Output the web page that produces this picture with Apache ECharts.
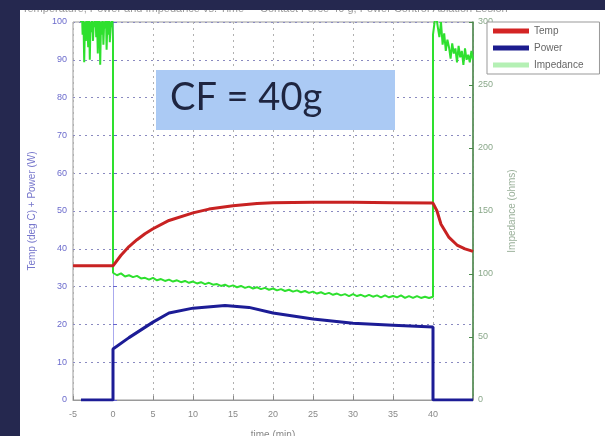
<!DOCTYPE html>
<html>
<head>
<meta charset="utf-8">
<script src="https://cdn.jsdelivr.net/npm/echarts@6/dist/echarts.min.js"></script>
<style>
  html, body { margin: 0; padding: 0; background: #25284f; }
  #chart { width: 605px; height: 436px; }
</style>
</head>
<body>
<div id="chart"></div>
<script>
    // data
    const seriesNames = ['Temp', 'Power', 'Impedance'];

    // Temp (left axis, deg C)
    const tempTime  = [-5, 0, 1, 2, 3, 4, 5, 7, 10, 12, 15, 18, 20, 25, 30, 35, 40, 40.5, 41, 42, 43, 44, 45];
    const tempValue = [35.5, 35.5, 38.3, 40.6, 42.4, 44, 45.3, 47.5, 49.5, 50.5, 51.4, 52, 52.2, 52.3, 52.3, 52.2, 52.1, 50, 46.5, 43, 41, 40, 39.3];

    // Power (left axis, W)
    const powerTime  = [-4, 0, 0, 2, 5, 7, 10, 14, 17, 20, 25, 30, 35, 40, 40, 45];
    const powerValue = [0, 0, 13.5, 16.5, 20.6, 23, 24.3, 25, 24.5, 23, 21.4, 20.3, 19.8, 19.3, 0, 0];

    // Impedance (right axis, ohms) - three stretches
    const impPreStart = -4, impPreStep = 0.1;
    const impPre  = [300, 312, 290, 305, 268, 300, 285, 312, 295, 280, 306, 270, 300, 292, 308, 285, 300, 296, 310, 288,
                     302, 275, 298, 310, 266, 300, 290, 307, 282, 300, 295, 312, 278, 301, 290, 306, 284, 300, 296, 305, 285];
    const impMidStart = 0, impMidStep = 0.5;
    const impMid  = [101, 99, 100.5, 98, 99, 97.5, 98.5, 96.5, 97, 95.5, 97, 95, 96, 94.5, 95.5, 94, 95, 93.5, 94.5, 93,
                     94, 92.5, 93.5, 92, 93, 91.5, 92, 90.5, 91.5, 90, 91, 89.5, 90.5, 89, 90, 88.5, 89.5, 88, 89, 87.5,
                     88.5, 87, 88, 86.5, 87.5, 86, 87, 85.5, 86.5, 85, 86, 84.5, 85.5, 84, 85, 83.5, 84.5, 83, 84, 82.5,
                     84, 82.5, 83.5, 82, 83.5, 82, 83, 81.5, 83, 81.5, 82.5, 81.5, 83, 81, 82.5, 81, 82.5, 81, 82, 81, 82];
    const impPostStart = 40, impPostStep = 0.2;
    const impPost = [290, 300, 305, 296, 288, 300, 282, 291, 277, 286, 280, 271, 283, 275, 279, 268, 281, 272, 277, 266, 279, 270, 274, 268, 277, 270];

    const xMin = -5, xMax = 45, xStep = 5;
    const leftMax = 100, leftStep = 10;
    const rightMax = 300, rightStep = 50;

    function pairs(ts, vs) {
        return ts.map(function (t, i) { return [t, vs[i]]; });
    }
    function stepped(start, step, vs) {
        return vs.map(function (v, i) { return [+(start + i * step).toFixed(2), v]; });
    }

    const impData = stepped(impPreStart, impPreStep, impPre)
        .concat(stepped(impMidStart, impMidStep, impMid))
        .concat(stepped(impPostStart, impPostStep, impPost));

    const chart = echarts.init(document.getElementById('chart'));

    const option = {
        backgroundColor: '#25284f',
        animation: false,
        textStyle: { fontFamily: 'Liberation Sans, Arial, sans-serif' },
        grid: {
            left: 73, right: 132, top: 22, bottom: 36,
            outerBoundsMode: 'none', containLabel: false,
            show: true, borderColor: '#9a9a9a', borderWidth: 1, backgroundColor: '#ffffff'
        },
        legend: {
            data: [
                { name: 'Temp', itemStyle: { color: '#d42424' } },
                { name: 'Power', itemStyle: { color: '#1c1c8e' } },
                { name: 'Impedance', itemStyle: { color: '#b4f0b4' } }
            ],
            orient: 'vertical',
            left: 487, top: 22,
            icon: 'rect',
            itemWidth: 36, itemHeight: 5, itemGap: 7,
            padding: [4, 16, 4, 6],
            backgroundColor: '#ffffff',
            borderColor: '#999999', borderWidth: 1,
            textStyle: { color: '#666666', fontSize: 10 }
        },
        xAxis: {
            type: 'value',
            min: xMin, max: xMax, interval: xStep,
            name: 'time (min)', nameLocation: 'middle', nameGap: 30,
            nameTextStyle: { color: '#888888', fontSize: 10 },
            axisLine: { lineStyle: { color: '#9a9a9a' } },
            axisTick: { inside: true, length: 4, lineStyle: { color: '#888888' } },
            axisLabel: {
                color: '#888888', fontSize: 9, margin: 10,
                formatter: function (v) { return v === xMax ? '' : v; }
            },
            splitLine: { show: true, lineStyle: { color: '#b0b0b0', type: [2, 4] } }
        },
        yAxis: [
            {
                type: 'value', min: 0, max: leftMax, interval: leftStep,
                name: 'Temp (deg C) + Power (W)', nameLocation: 'middle', nameGap: 36,
                nameTextStyle: { color: '#7777cc', fontSize: 10 },
                axisLine: { show: true, lineStyle: { color: '#aaaaee' } },
                axisTick: { show: true, inside: true, length: 4, lineStyle: { color: '#6666cc' } },
                axisLabel: { color: '#6b6bcc', fontSize: 9, margin: 6 },
                splitLine: { show: true, lineStyle: { color: '#8a8ac0', type: [2, 4] } }
            },
            {
                type: 'value', min: 0, max: rightMax, interval: rightStep,
                name: 'Impedance (ohms)', nameLocation: 'middle', nameGap: 34,
                nameTextStyle: { color: '#9ab09a', fontSize: 10 },
                axisLine: { show: true, lineStyle: { color: '#4a8a4a', width: 1.5 } },
                axisTick: { show: true, inside: true, length: 4, lineStyle: { color: '#4a8a4a' } },
                axisLabel: { color: '#8aa88a', fontSize: 9, margin: 5 },
                splitLine: { show: false }
            }
        ],
        series: [
            {
                name: 'Impedance', type: 'line', yAxisIndex: 1,
                data: impData, showSymbol: false, clip: true,
                lineStyle: { color: '#2ee02e', width: 2 },
                itemStyle: { color: '#2ee02e' }, z: 3
            },
            {
                name: 'Temp', type: 'line', yAxisIndex: 0,
                data: pairs(tempTime, tempValue), showSymbol: false,
                lineStyle: { color: '#c82222', width: 3 },
                itemStyle: { color: '#c82222' }, z: 4
            },
            {
                name: 'Power', type: 'line', yAxisIndex: 0,
                data: pairs(powerTime, powerValue), showSymbol: false,
                lineStyle: { color: '#1c1c96', width: 3 },
                itemStyle: { color: '#1c1c96' }, z: 4
            }
        ],
        graphic: [
            // white figure area
            { type: 'rect', z: -10, shape: { x: 20, y: 10, width: 590, height: 430 }, style: { fill: '#ffffff' } },
            // title, cut by the slide edge
            { type: 'text', z: -5, left: 22, top: 3,
              style: { text: 'Temperature, Power and Impedance vs. Time  -  Contact Force 40 g, Power Control Ablation Lesion', fill: '#9a9a9a', font: '11px Liberation Sans' } },
            { type: 'rect', z: 50, shape: { x: 0, y: 0, width: 605, height: 10 }, style: { fill: '#25284f' } },
            // CF label box
            { type: 'rect', z: 60, shape: { x: 156, y: 70, width: 239, height: 60 }, style: { fill: '#abcaf4' } },
            { type: 'text', z: 61, left: 170, top: 79,
              style: { text: 'CF = 40g', fill: '#1e2540', font: '38px Lato' } }
        ]
    };

    chart.setOption(option);
</script>
</body>
</html>
